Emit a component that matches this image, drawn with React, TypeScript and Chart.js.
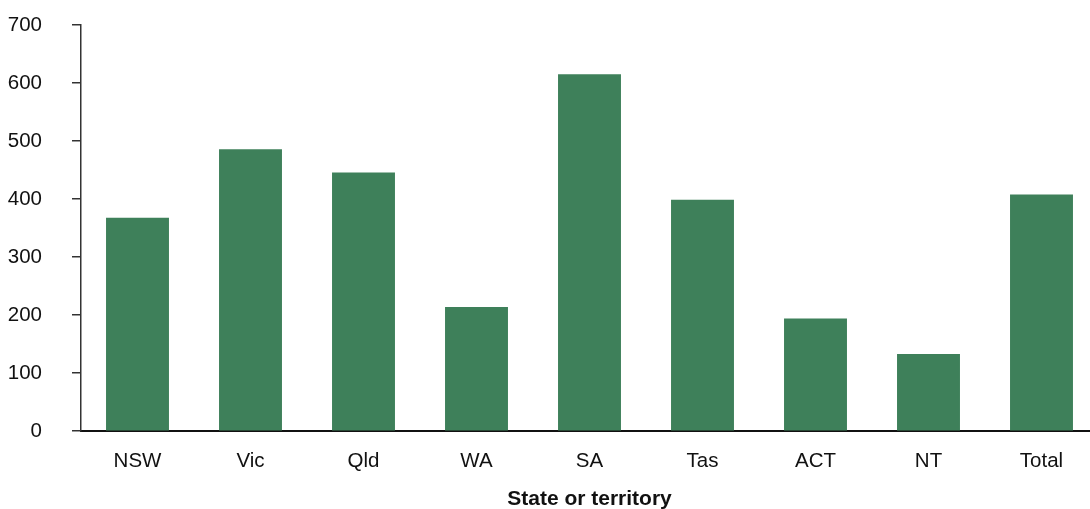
import React, { useEffect, useRef } from "react";
import { Chart, registerables } from "chart.js";

Chart.register(...registerables);

const categories = ["NSW", "Vic", "Qld", "WA", "SA", "Tas", "ACT", "NT", "Total"];
const values = [368, 486, 446, 214, 615, 399, 194, 133, 408];
const yTicks = [0, 100, 200, 300, 400, 500, 600, 700];
const xTitle = "State or territory";

export default function App() {
  const ref = useRef<HTMLCanvasElement | null>(null);

  useEffect(() => {
    if (!ref.current) return;
    const chart = new Chart(ref.current, {
      type: "bar",
      data: {
        labels: categories,
        datasets: [
          {
            data: values,
            backgroundColor: "rgb(62,128,90)",
            borderWidth: 0,
            barPercentage: 0.557,
            categoryPercentage: 1,
          },
        ],
      },
      options: {
        animation: false,
        responsive: false,
        maintainAspectRatio: false,
        devicePixelRatio: 1,
        layout: { padding: { top: 25, bottom: -5, left: 0, right: 0 } },
        plugins: { legend: { display: false }, tooltip: { enabled: false } },
        scales: {
          x: {
            grid: { display: false, drawTicks: false },
            border: { display: true, color: "#111", width: 2 },
            ticks: {
              color: "#111",
              font: { family: "Liberation Sans, Arial, sans-serif", size: 20.5 },
              padding: 18,
              maxRotation: 0,
              autoSkip: false,
            },
            title: {
              display: true,
              text: xTitle,
              color: "#111",
              font: { family: "Liberation Sans, Arial, sans-serif", size: 21, weight: "bold" },
              padding: { top: -5, bottom: 2 },
            },
          },
          y: {
            min: 0,
            max: 700,
            afterFit: (s: any) => {
              s.width = 81;
              s.paddingTop = 0;
              s.paddingBottom = 0;
            },
            afterBuildTicks: (s: any) => {
              s.ticks = yTicks.map((v) => ({ value: v }));
            },
            grid: {
              display: true,
              drawOnChartArea: false,
              drawTicks: true,
              tickLength: 9,
              color: "#333",
              lineWidth: 1.5,
            },
            border: { display: true, color: "#333", width: 1.5 },
            ticks: {
              color: "#111",
              font: { family: "Liberation Sans, Arial, sans-serif", size: 20.5 },
              padding: 30,
            },
          },
        },
      },
    });
    return () => chart.destroy();
  }, []);

  return (
    <div style={{ position: "absolute", left: 0, top: 0, width: 1090, height: 509, overflow: "hidden", background: "#fff" }}>
      <canvas ref={ref} width={1098} height={509} style={{ display: "block", width: 1098, height: 509 }} />
    </div>
  );
}
